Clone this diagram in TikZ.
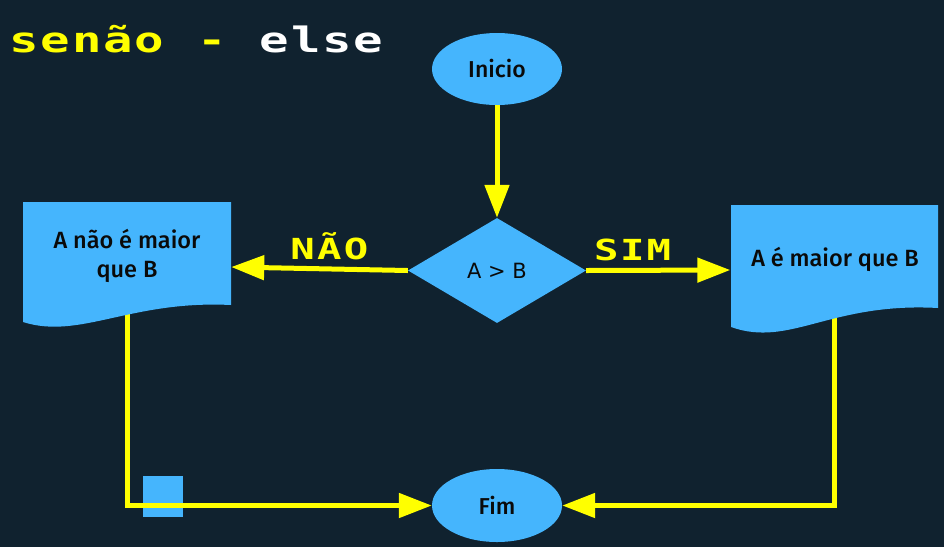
\documentclass[tikz,border=0pt]{standalone}
\usepackage{fontspec}
\setmainfont{Fira Sans}[UprightFont=* Medium]
\newfontfamily\pixfont[FakeStretch=1.4]{DejaVu Sans Mono}
\newfontfamily\dvfont{DejaVu Sans}
\usetikzlibrary{shapes.geometric,arrows.meta}
\definecolor{bg}{HTML}{10222F}
\definecolor{shapeblue}{HTML}{45B5FD}
\definecolor{flowyellow}{HTML}{FFFF00}
\definecolor{txt}{HTML}{0A0A0A}
\newcommand\pxbox[2]{\makebox[#1][c]{#2}}
\begin{document}
\begin{tikzpicture}[x=1pt,y=-1pt,
  terminal/.style={ellipse, fill=shapeblue, minimum width=130pt, minimum height=72pt, inner sep=0pt, font=\fontsize{23}{27}\selectfont, text=txt},
  decision/.style={diamond, fill=shapeblue, minimum width=178pt, minimum height=105pt, inner sep=0pt, font=\dvfont\fontsize{21}{25}\selectfont, text=txt},
  docbox/.style={rectangle, minimum width=208pt, minimum height=130pt, inner sep=0pt},
  doctext/.style={inner sep=0pt, align=center, font=\fontsize{23.5}{29}\selectfont, text=txt},
  conn/.style={draw=flowyellow, line width=5pt, -{Triangle[length=33pt,width=24pt]}},
  pixlabel/.style={inner sep=0pt, anchor=base west, text=flowyellow, font=\pixfont\bfseries\fontsize{29}{29}\selectfont},
  pixtitle/.style={inner sep=0pt, anchor=base west, text=flowyellow, font=\pixfont\bfseries\fontsize{35}{35}\selectfont}]
\fill[bg] (0,0) rectangle (944,547);
\useasboundingbox (0,0) rectangle (944,547);

% title
\node[pixtitle] (title) at (8.35,52) {\pxbox{31.3pt}{s}\pxbox{31.3pt}{e}\pxbox{31.3pt}{n}\pxbox{31.3pt}{ã}\pxbox{31.3pt}{o}\pxbox{31.3pt}{ }\pxbox{31.3pt}{-}\pxbox{31.3pt}{ }{\color{white}\pxbox{31.3pt}{e}\pxbox{31.3pt}{l}\pxbox{31.3pt}{s}\pxbox{31.3pt}{e}}};

% small square under the line
\fill[shapeblue] (143,476) rectangle (183,517);

% nodes
\node[terminal] (inicio) at (497,69) {Inicio};
\node[decision] (dia) at (497,270.5) {A > B};
\node[terminal, minimum height=73pt] (fim) at (497,505.5) {Fim};
\node[docbox] (naobox) at (127,267) {};
\node[docbox] (simbox) at (834.5,270) {};

% connectors
\draw[conn] (inicio) -- (dia);
\draw[conn] (dia.west) -- (naobox.east);
\draw[conn] (dia.east) -- (simbox.west);
\draw[conn] (naobox.center) |- (fim.west);
\draw[conn] (simbox.center) |- (fim.east);

% document shapes
\fill[shapeblue] (23,202) -- (231,202) -- (231,305) .. controls (130,300) and (80,340) .. (23,322) -- cycle;
\fill[shapeblue] (731,205) -- (938,205) -- (938,308) .. controls (830,302) and (790,348) .. (731,327) -- cycle;
\node[doctext] (naotxt) at (127,256) {A não é maior\\que B};
\node[doctext] (simtxt) at (835,259) {A é maior que B};

% labels
\node[pixlabel] (naolbl) at (289.1,259) {\pxbox{26.75pt}{N}\pxbox{26.75pt}{Ã}\pxbox{26.75pt}{O}};
\node[pixlabel] (simlbl) at (592.9,260) {\pxbox{26.25pt}{S}\pxbox{26.25pt}{I}\pxbox{26.25pt}{M}};
\end{tikzpicture}
\end{document}
